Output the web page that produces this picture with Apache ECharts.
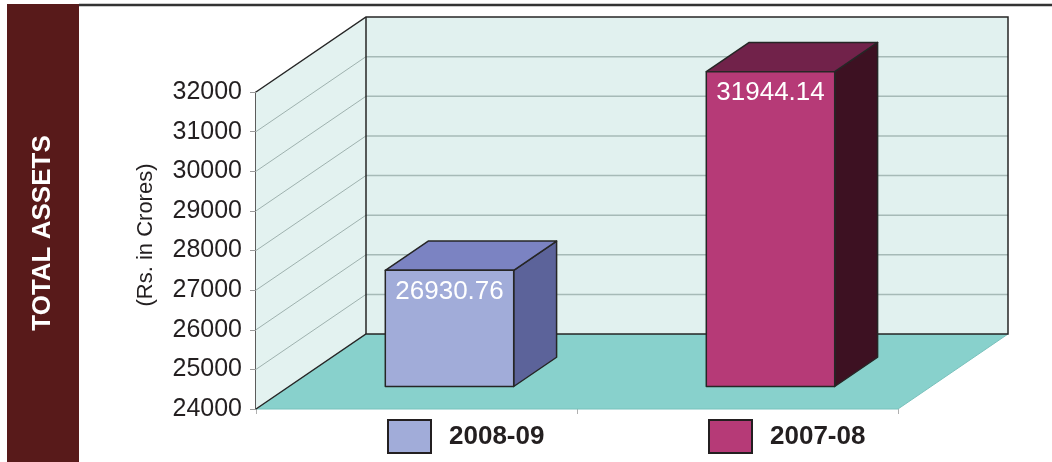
<!DOCTYPE html>
<html>
<head>
<meta charset="utf-8">
<script src="https://cdn.jsdelivr.net/npm/echarts@6/dist/echarts.min.js"></script>
<style>
  html, body { margin: 0; padding: 0; background: #ffffff; }
  #chart { width: 1052px; height: 462px; }
</style>
</head>
<body>
<div id="chart"></div>
<script>
// Total assets, Rs. in Crores
const categories = ['2008-09', '2007-08'];
const totalAssets = [26930.76, 31944.14];
const yTicks = [24000, 25000, 26000, 27000, 28000, 29000, 30000, 31000, 32000];

// face colours per year: front, top, side
const faces2008 = ['#a1acd9', '#7b83c2', '#5c639a'];
const faces2007 = ['#b63a77', '#71224a', '#3d1122'];

const FONT = '"Liberation Sans", Arial, Helvetica, sans-serif';
const TEXT = '#231f20';
const EDGE = '#262626';

// oblique projection of the floor depth (pixels for the full depth)
const DEPTH = [110, -75];
const BAR_Z0 = 0.30;   // bar front along the depth
const BAR_Z1 = 0.69;   // bar back along the depth
const BAR_W = 0.40;    // bar width as share of the category band

function off(p, f) {
  return [p[0] + DEPTH[0] * f, p[1] + DEPTH[1] * f];
}

function renderWalls(params, api) {
  const cs = params.coordSys;
  const x0 = cs.x, x1 = cs.x + cs.width;
  const yB = api.coord([0, yTicks[0]])[1];
  const yT = api.coord([0, yTicks[yTicks.length - 1]])[1];
  const fl = [x0, yB], fr = [x1, yB], tl = [x0, yT], tr = [x1, yT];
  const children = [];
  // floor
  children.push({ type: 'polygon', shape: { points: [fl, fr, off(fr, 1), off(fl, 1)] },
    style: { fill: '#88d1cc', stroke: '#79c2bd', lineWidth: 1 } });
  // back wall
  children.push({ type: 'polygon', shape: { points: [off(tl, 1), off(tr, 1), off(fr, 1), off(fl, 1)] },
    style: { fill: '#e1f1ef' } });
  // side wall
  children.push({ type: 'polygon', shape: { points: [fl, tl, off(tl, 1), off(fl, 1)] },
    style: { fill: '#e3f2f0' } });
  // grid lines on both walls
  yTicks.slice(1, -1).forEach(function (v) {
    const p = [x0, api.coord([0, v])[1]];
    const q = off(p, 1);
    children.push({ type: 'line', shape: { x1: p[0], y1: p[1], x2: q[0], y2: q[1] },
      style: { stroke: '#9fb2af', lineWidth: 1 } });
    children.push({ type: 'line', shape: { x1: q[0], y1: q[1], x2: x1 + DEPTH[0], y2: q[1] },
      style: { stroke: '#a6bab7', lineWidth: 1.5 } });
  });
  // wall edges
  children.push({ type: 'polyline', shape: { points: [fl, off(fl, 1), off(fr, 1), off(tr, 1), off(tl, 1), tl] },
    style: { stroke: EDGE, lineWidth: 1.5, fill: null } });
  const a = off(fl, 1), b = off(tl, 1);
  children.push({ type: 'line', shape: { x1: a[0], y1: a[1], x2: b[0], y2: b[1] },
    style: { stroke: EDGE, lineWidth: 1.5 } });
  return { type: 'group', children: children };
}

function barRenderer(colors) {
  return function (params, api) {
    const cat = api.value(0), val = api.value(1);
    const top = api.coord([cat, val]);
    const base = api.coord([cat, yTicks[0]]);
    const bw = api.size([1, 0])[0] * BAR_W;
    const xl = top[0] - bw / 2, xr = top[0] + bw / 2;
    const fTL = off([xl, top[1]], BAR_Z0), fTR = off([xr, top[1]], BAR_Z0);
    const fBR = off([xr, base[1]], BAR_Z0), fBL = off([xl, base[1]], BAR_Z0);
    const d = BAR_Z1 - BAR_Z0;
    const bTL = off(fTL, d), bTR = off(fTR, d), bBR = off(fBR, d);
    const edge = { stroke: EDGE, lineWidth: 1.5, lineJoin: 'round' };
    return {
      type: 'group',
      children: [
        { type: 'polygon', shape: { points: [fTR, bTR, bBR, fBR] }, style: Object.assign({ fill: colors[2] }, edge) },
        { type: 'polygon', shape: { points: [fTL, bTL, bTR, fTR] }, style: Object.assign({ fill: colors[1] }, edge) },
        { type: 'polygon', shape: { points: [fTL, fTR, fBR, fBL] }, style: Object.assign({ fill: colors[0] }, edge) },
        { type: 'text', x: fTL[0] + 10, y: fTL[1] + 21,
          style: { text: val.toFixed(2), fill: '#ffffff', font: '26px ' + FONT,
                   align: 'left', verticalAlign: 'middle' } }
      ]
    };
  };
}

const chart = echarts.init(document.getElementById('chart'), null, { renderer: 'canvas' });

const legendCommon = {
  top: 419,
  padding: 0,
  icon: 'rect',
  itemWidth: 43,
  itemHeight: 33,
  itemStyle: { borderColor: TEXT, borderWidth: 2 },
  textStyle: { color: TEXT, fontSize: 26, fontWeight: 'bold', fontFamily: FONT, padding: [0, 0, 0, 13] },
  selectedMode: false
};

chart.setOption({
  animation: false,
  backgroundColor: '#ffffff',
  grid: { left: 256, right: 154, top: 92, bottom: 53, containLabel: false },
  xAxis: {
    type: 'category',
    data: categories,
    boundaryGap: true,
    axisLine: { show: false },
    axisTick: { show: true, length: 5, lineStyle: { color: '#b0b0b0', width: 1 } },
    axisLabel: { show: false },
    splitLine: { show: false }
  },
  yAxis: {
    type: 'value',
    min: yTicks[0],
    max: yTicks[yTicks.length - 1],
    interval: yTicks[1] - yTicks[0],
    axisLine: { show: true, lineStyle: { color: EDGE, width: 1.5 } },
    axisTick: { show: true, length: 6, lineStyle: { color: '#9a9a9a', width: 1 } },
    axisLabel: { fontSize: 25, color: TEXT, fontFamily: FONT, margin: 14,
                 formatter: function (v) { return String(v); } },
    splitLine: { show: false }
  },
  legend: [
    Object.assign({ left: 387, data: [categories[0]] }, legendCommon),
    Object.assign({ left: 708, data: [categories[1]] }, legendCommon)
  ],
  graphic: [
    { type: 'rect', shape: { x: 7, y: 4, width: 72, height: 458 }, style: { fill: '#581a1a' }, z: 0 },
    { type: 'line', shape: { x1: 79, y1: 5, x2: 1052, y2: 5 }, style: { stroke: '#333333', lineWidth: 2.5 } },
    { type: 'text', x: 43, y: 233, rotation: Math.PI / 2,
      style: { text: 'TOTAL ASSETS', fill: '#ffffff', font: 'bold 26px ' + FONT, align: 'center', verticalAlign: 'middle' } },
    { type: 'text', x: 146, y: 235, rotation: Math.PI / 2,
      style: { text: '(Rs. in Crores)', fill: TEXT, font: '22px ' + FONT, align: 'center', verticalAlign: 'middle' } }
  ],
  series: [
    { type: 'custom', name: 'walls', renderItem: renderWalls, data: [[0, yTicks[0]]], clip: false, z: 1, silent: true },
    { type: 'custom', name: categories[0], renderItem: barRenderer(faces2008), data: [[0, totalAssets[0]]],
      itemStyle: { color: faces2008[0] }, clip: false, z: 3 },
    { type: 'custom', name: categories[1], renderItem: barRenderer(faces2007), data: [[1, totalAssets[1]]],
      itemStyle: { color: faces2007[0] }, clip: false, z: 3 }
  ]
});
</script>
</body>
</html>
